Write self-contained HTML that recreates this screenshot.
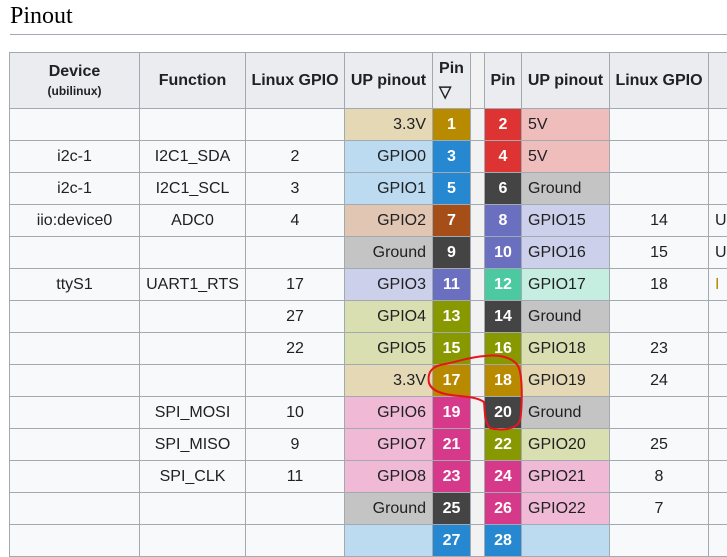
<!DOCTYPE html>
<html><head><meta charset="utf-8"><style>
body{margin:0;width:727px;height:528px;overflow:hidden;background:#fff;position:relative;font-family:"Liberation Sans",Arial,sans-serif}
#title{position:absolute;left:10px;top:3px;font:24px "Liberation Serif",serif;color:#000}
#rule{position:absolute;left:10px;top:34px;width:717px;height:1px;background:#a2a9b1}
.c{position:absolute;box-sizing:border-box;border:1px solid #a2a9b1;margin:-1px 0 0 -1px;display:flex;align-items:center;justify-content:center;font-size:16px;color:#202122;background:#f8f9fa;white-space:nowrap;overflow:hidden}
.h{background:#eaecf0;font-weight:bold;flex-direction:column;line-height:1.45}
.r{justify-content:flex-end;padding-right:6px}
.l{justify-content:flex-start;padding-left:6px}
.p{color:#fff;font-weight:bold}
</style></head><body>
<div id="title">Pinout</div>
<div id="rule"></div>
<div id="tbl"></div>
<svg id="circ" style="position:absolute;left:0;top:0" width="727" height="528">
<path d="M429,383 C427,372 432,366 445,364 C460,361 470,357 485,356 C500,354 515,358 519,368 C523,380 522,410 520,420 C517,430 500,431 490,428 C484,422 485,410 484,402 C478,398 470,397 460,396 C445,395 432,392 429,383 Z" fill="none" stroke="#e8141c" stroke-width="2"/>
</svg>
<script>
const X=[10,140,246,345,433,471,485,522,610,709,740];
const headers=["Device<br><span style='font-size:12px'>(ubilinux)</span>","Function","Linux GPIO","UP pinout","Pin<br>&#9661;","","Pin","UP pinout","Linux GPIO",""];
const C={v3:["#e5d8b4","#b88a00"],bl:["#bcdaf0","#2588d0"],v5:["#f0bdbd","#dd3333"],gn:["#c4c4c4","#444444"],br:["#e2c6b4","#a54e18"],pu:["#cdd0ea","#6b6fc0"],te:["#c6eee0","#4cc9a0"],ol:["#d9dfb0","#879800"],pk:["#f0bad6","#d6388a"]};
const rows=[
["","","","3.3V","v3",1,2,"5V","v5","",""],
["i2c-1","I2C1_SDA","2","GPIO0","bl",3,4,"5V","v5","",""],
["i2c-1","I2C1_SCL","3","GPIO1","bl",5,6,"Ground","gn","",""],
["iio:device0","ADC0","4","GPIO2","br",7,8,"GPIO15","pu","14","U"],
["","","","Ground","gn",9,10,"GPIO16","pu","15","U"],
["ttyS1","UART1_RTS","17","GPIO3","pu",11,12,"GPIO17","te","18","<span style='color:#b88a00'>I</span>"],
["","","27","GPIO4","ol",13,14,"Ground","gn","",""],
["","","22","GPIO5","ol",15,16,"GPIO18","ol","23",""],
["","","","3.3V","v3",17,18,"GPIO19","v3","24",""],
["","SPI_MOSI","10","GPIO6","pk",19,20,"Ground","gn","",""],
["","SPI_MISO","9","GPIO7","pk",21,22,"GPIO20","ol","25",""],
["","SPI_CLK","11","GPIO8","pk",23,24,"GPIO21","pk","8",""],
["","","","Ground","gn",25,26,"GPIO22","pk","7",""],
["","","","","bl",27,28,"","bl","",""]];
const T=document.getElementById('tbl');
function cell(i,y,h,html,cls,bg,fg){const d=document.createElement('div');


d.className='c '+cls;d.style.left=X[i]+'px';d.style.top=y+'px';d.style.width=(X[i+1]-X[i]+1)+'px';d.style.height=(h+1)+'px';
if(bg)d.style.background=bg;if(fg)d.style.color=fg;d.innerHTML=html;T.appendChild(d);}
headers.forEach((t,i)=>cell(i,53,56,t,'h',i==5?'#f2f2f2':null));
rows.forEach((r,k)=>{const y=109+32*k;
cell(0,y,32,r[0],'');cell(1,y,32,r[1],'');cell(2,y,32,r[2],'');
cell(3,y,32,r[3],'r',C[r[4]][0]);cell(4,y,32,r[5],'p',C[r[4]][1]);
cell(5,y,32,'','','#f2f2f2');
cell(6,y,32,r[6],'p',C[r[8]][1]);cell(7,y,32,r[7],'l',C[r[8]][0]);
cell(8,y,32,r[9],'');cell(9,y,32,r[10],'l');});
</script>
</body></html>
